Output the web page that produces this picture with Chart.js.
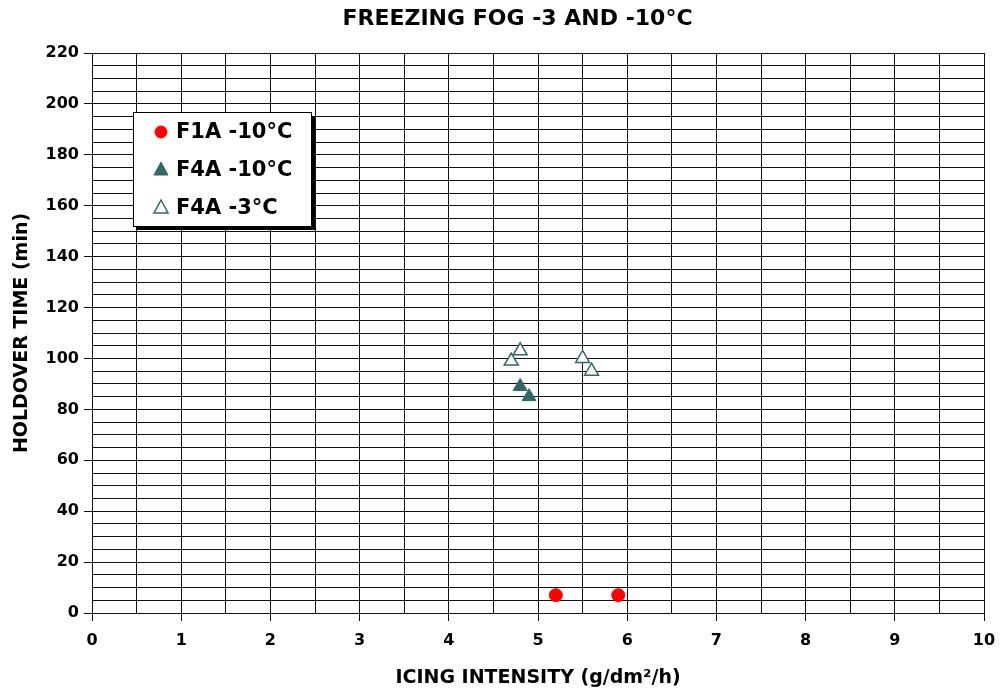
<!DOCTYPE html>
<html>
<head>
<meta charset="utf-8">
<script src="https://cdn.jsdelivr.net/npm/chart.js@4"></script>
<style>
  body { margin: 0; background: #fff; }
  #wrap { width: 1001px; height: 696px; }
</style>
</head>
<body>
<div id="wrap"><canvas id="chart" width="1001" height="696"></canvas></div>
<script>
// values
var chartTitle = 'FREEZING FOG -3 AND -10°C';
var seriesNames = ['F1A -10°C', 'F4A -10°C', 'F4A -3°C'];
var f1aCold = [{ x: 5.2, y: 7 }, { x: 5.9, y: 7 }];
var f4aCold = [{ x: 4.8, y: 89 }, { x: 4.9, y: 85 }];
var f4aWarm = [{ x: 4.7, y: 99 }, { x: 4.8, y: 103 }, { x: 5.5, y: 100 }, { x: 5.6, y: 95 }];

var teal = '#336666';
var font = '"DejaVu Sans", Arial, sans-serif';

// title sits a bit left of the plot centre in the original, so draw it here
var topTitle = {
    id: 'topTitle',
    afterDraw(chart) {
        var ctx = chart.ctx;
        ctx.save();
        ctx.font = 'bold 22px ' + font;
        ctx.fillStyle = '#000';
        ctx.textAlign = 'center';
        ctx.textBaseline = 'middle';
        ctx.fillText(chartTitle, chart.width / 2 + 17, 19);
        ctx.restore();
    }
};

// legend box inside the plot, with a shadow like the original
var boxLegend = {
    id: 'boxLegend',
    afterDraw(chart) {
        var ctx = chart.ctx;
        var a = chart.chartArea;
        var x = a.left + 41, y = a.top + 59, w = 178, h = 114;
        ctx.save();
        ctx.fillStyle = '#000';
        ctx.fillRect(x + 4, y + 4, w, h);
        ctx.fillStyle = '#fff';
        ctx.fillRect(x, y, w, h);
        ctx.strokeStyle = '#000';
        ctx.lineWidth = 1;
        ctx.strokeRect(x + 0.5, y + 0.5, w, h);
        ctx.font = 'bold 21px ' + font;
        ctx.textBaseline = 'middle';
        chart.data.datasets.forEach(function (ds, i) {
            var cy = y + 20 + i * 38;
            var cx = x + 28;
            ctx.fillStyle = ds.backgroundColor;
            ctx.strokeStyle = ds.borderColor;
            ctx.lineWidth = ds.borderWidth;
            ctx.beginPath();
            if (ds.pointStyle === 'circle') {
                ctx.arc(cx, cy, 6, 0, Math.PI * 2);
            } else {
                ctx.moveTo(cx, cy - 8);
                ctx.lineTo(cx + 7, cy + 5);
                ctx.lineTo(cx - 7, cy + 5);
                ctx.closePath();
            }
            ctx.fill();
            ctx.stroke();
            ctx.fillStyle = '#000';
            ctx.fillText(ds.label, x + 43, cy + 1);
        });
        ctx.restore();
    }
};

var ctx = document.getElementById('chart').getContext('2d');
var myChart = new Chart(ctx, {
    type: 'scatter',
    data: {
        datasets: [
            {
                label: seriesNames[0],
                data: f1aCold,
                pointStyle: 'circle',
                pointRadius: 6.5,
                backgroundColor: '#ff0000',
                borderColor: '#ff0000',
                borderWidth: 1,
            },
            {
                label: seriesNames[1],
                data: f4aCold,
                pointStyle: 'triangle',
                pointRadius: 8,
                backgroundColor: teal,
                borderColor: teal,
                borderWidth: 1,
            },
            {
                label: seriesNames[2],
                data: f4aWarm,
                pointStyle: 'triangle',
                pointRadius: 8,
                backgroundColor: '#ffffff',
                borderColor: teal,
                borderWidth: 1.5,
            },
        ],
    },
    options: {
        responsive: false,
        animation: false,
        layout: { padding: { top: 53, right: 17, left: 0, bottom: 0 } },
        plugins: {
            legend: { display: false },
            tooltip: { enabled: false },
            title: { display: false },
        },
        scales: {
            x: {
                type: 'linear',
                min: 0,
                max: 10,
                afterFit(scale) {
                    scale.height = 83;
                    scale.paddingLeft = 0;
                    scale.paddingRight = 0;
                },
                ticks: {
                    stepSize: 0.5,
                    autoSkip: false,
                    maxRotation: 0,
                    color: '#000',
                    padding: 10,
                    font: { family: font, size: 16, weight: 'bold' },
                    callback: function (v) { return Number.isInteger(v) ? v : ''; },
                },
                grid: {
                    color: '#111',
                    lineWidth: 1,
                    tickLength: 8,
                    tickColor: function (c) { return Number.isInteger(c.tick.value) ? '#111' : 'rgba(0,0,0,0)'; },
                },
                border: { color: '#111', width: 1 },
                title: {
                    display: true,
                    text: 'ICING INTENSITY (g/dm²/h)',
                    color: '#000',
                    font: { family: font, size: 19, weight: 'bold' },
                    padding: { top: 10, bottom: 7 },
                },
            },
            y: {
                min: 0,
                max: 220,
                afterFit(scale) {
                    scale.width = 92;
                    scale.paddingTop = 0;
                    scale.paddingBottom = 0;
                },
                ticks: {
                    stepSize: 5,
                    autoSkip: false,
                    color: '#000',
                    padding: 5,
                    font: { family: font, size: 16, weight: 'bold' },
                    callback: function (v) { return v % 20 === 0 ? v : ''; },
                },
                grid: {
                    color: '#111',
                    lineWidth: 1,
                    tickLength: 8,
                    tickColor: function (c) { return c.tick.value % 20 === 0 ? '#111' : 'rgba(0,0,0,0)'; },
                },
                border: { color: '#111', width: 1 },
                title: {
                    display: true,
                    text: 'HOLDOVER TIME (min)',
                    color: '#000',
                    font: { family: font, size: 19, weight: 'bold' },
                    padding: { top: 11, bottom: 0 },
                },
            },
        },
    },
    plugins: [topTitle, boxLegend],
});
</script>
</body>
</html>
